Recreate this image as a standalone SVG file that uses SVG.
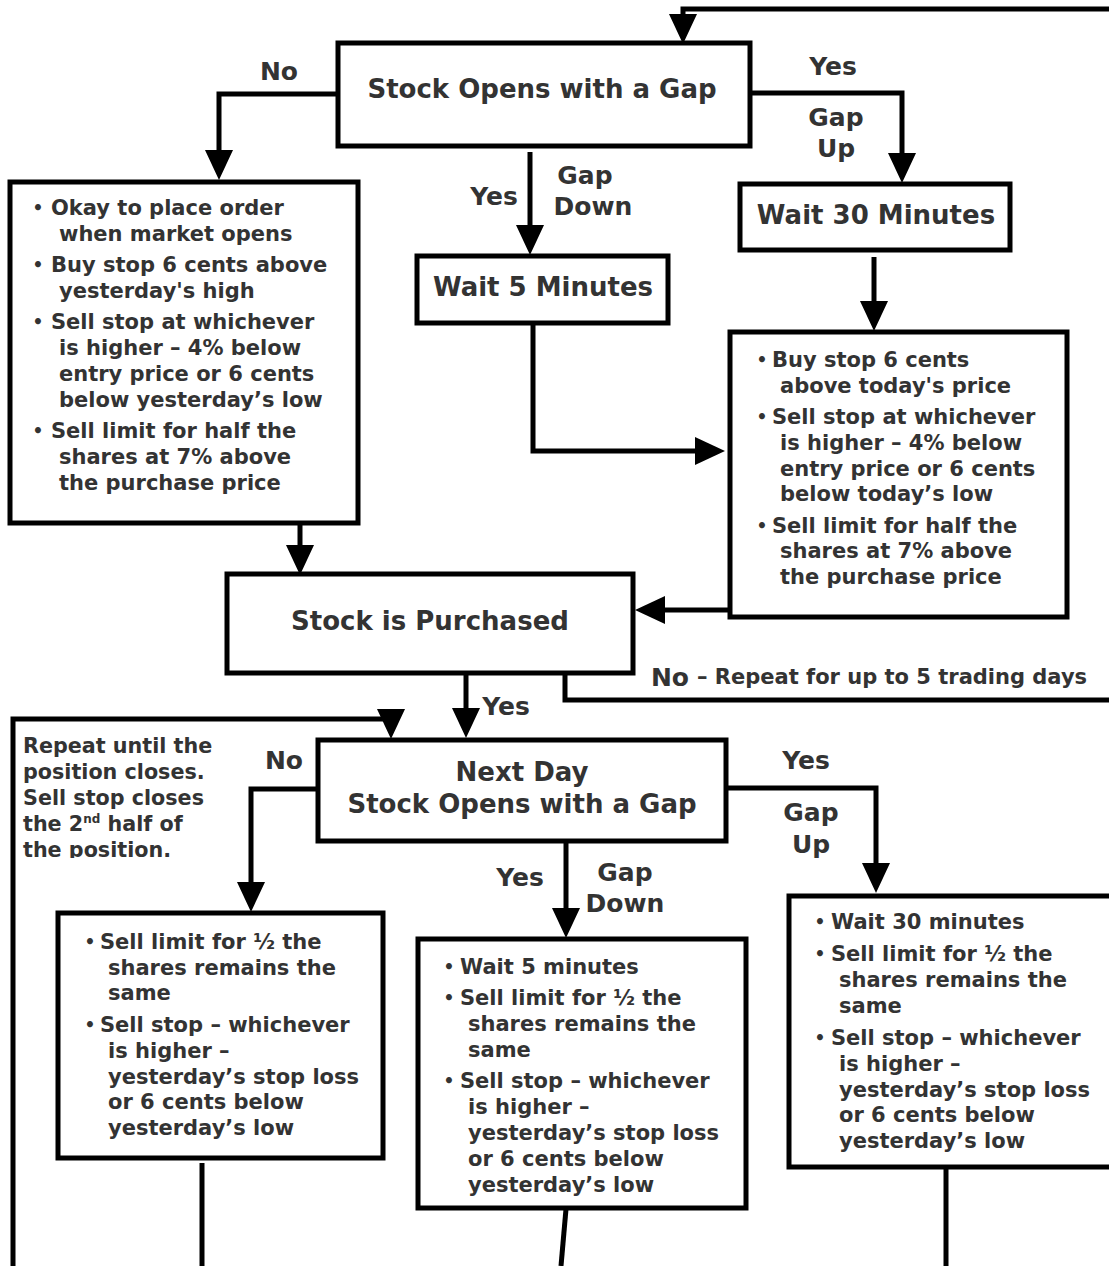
<svg xmlns="http://www.w3.org/2000/svg" width="1109" height="1266" viewBox="0 0 1109 1266">
<style>
text{font-family:"DejaVu Sans",Verdana,sans-serif;font-weight:bold;fill:#333}
.box{fill:#fff;stroke:#000;stroke-width:5}
.ln{fill:none;stroke:#000;stroke-width:5}
.ttl{font-size:26px;text-anchor:middle}
.lbl{font-size:25px;text-anchor:middle}
.b{font-size:21px}
.dot{font-size:17px;text-anchor:middle}
.note{font-size:20.7px}
</style>
<defs>
<marker id="ah" markerUnits="userSpaceOnUse" markerWidth="32" markerHeight="28" refX="18" refY="14" orient="auto">
<path d="M0,0 L30,14 L0,28 z" fill="#000"/>
</marker>
<clipPath id="cl"><rect x="0" y="0" width="300" height="858"/></clipPath>
</defs>
<g id="connectors">
<path class="ln" d="M1109,9 H683 V32" marker-end="url(#ah)"/>
<path class="ln" d="M338,94 H219 V168" marker-end="url(#ah)"/>
<path class="ln" d="M752,93 H902 V171" marker-end="url(#ah)"/>
<path class="ln" d="M530,152 V243" marker-end="url(#ah)"/>
<path class="ln" d="M533,323 V451 H713" marker-end="url(#ah)"/>
<path class="ln" d="M874,257 V319" marker-end="url(#ah)"/>
<path class="ln" d="M730,610 H647" marker-end="url(#ah)"/>
<path class="ln" d="M300,523 V563" marker-end="url(#ah)"/>
<path class="ln" d="M565,673 V700 H1109"/>
<path class="ln" d="M466,675 V726" marker-end="url(#ah)"/>
<path class="ln" d="M13,1266 V719 H391 V727" marker-end="url(#ah)"/>
<path class="ln" d="M318,789 H251 V900" marker-end="url(#ah)"/>
<path class="ln" d="M727,788 H876 V881" marker-end="url(#ah)"/>
<path class="ln" d="M566,842 V926" marker-end="url(#ah)"/>
<path class="ln" d="M202,1163 V1266"/>
<path class="ln" d="M566,1209 L561,1266"/>
<path class="ln" d="M946,1167 V1266"/>
</g>
<g id="labels">
<text class="lbl" x="279" y="80">No</text>
<text class="lbl" x="833" y="75">Yes</text>
<text class="lbl" x="836" y="126">Gap</text>
<text class="lbl" x="836" y="157">Up</text>
<text class="lbl" x="494" y="205">Yes</text>
<text class="lbl" x="585" y="184">Gap</text>
<text class="lbl" x="593" y="215">Down</text>
<text class="lbl" x="670" y="686">No</text>
<text x="697" y="684" style="font-size:21px">– Repeat for up to 5 trading days</text>
<text class="lbl" x="506" y="715">Yes</text>
<text class="lbl" x="284" y="769">No</text>
<text class="lbl" x="806" y="769">Yes</text>
<text class="lbl" x="811" y="821">Gap</text>
<text class="lbl" x="811" y="853">Up</text>
<text class="lbl" x="520" y="886">Yes</text>
<text class="lbl" x="625" y="881">Gap</text>
<text class="lbl" x="625" y="912">Down</text>
</g>
<g id="note" clip-path="url(#cl)">
<text class="note" x="23" y="753">Repeat until the</text>
<text class="note" x="23" y="779">position closes.</text>
<text class="note" x="23" y="805">Sell stop closes</text>
<text class="note" x="23" y="831">the 2<tspan dy="-8" style="font-size:12px">nd</tspan><tspan dy="8"> half of</tspan></text>
<text class="note" x="23" y="857">the position.</text>
</g>
<g id="n_gap">
<rect class="box" x="338" y="43" width="412" height="103"/>
<text class="ttl" x="542" y="98">Stock Opens with a Gap</text>
</g>
<g id="n_left">
<rect class="box" x="10" y="182" width="348" height="341"/>
<text class="dot" x="38" y="214">•</text><text class="b" x="51" y="215">Okay to place order</text>
<text class="b" x="59" y="241">when market opens</text>
<text class="dot" x="38" y="271">•</text><text class="b" x="51" y="272">Buy stop 6 cents above</text>
<text class="b" x="59" y="298">yesterday's high</text>
<text class="dot" x="38" y="328">•</text><text class="b" x="51" y="329">Sell stop at whichever</text>
<text class="b" x="59" y="355">is higher – 4% below</text>
<text class="b" x="59" y="381">entry price or 6 cents</text>
<text class="b" x="59" y="407">below yesterday’s low</text>
<text class="dot" x="38" y="437">•</text><text class="b" x="51" y="438">Sell limit for half the</text>
<text class="b" x="59" y="464">shares at 7% above</text>
<text class="b" x="59" y="490">the purchase price</text>
</g>
<g id="n_w30">
<rect class="box" x="740" y="184" width="270" height="66"/>
<text class="ttl" x="876" y="224">Wait 30 Minutes</text>
</g>
<g id="n_w5">
<rect class="box" x="417" y="256" width="251" height="67"/>
<text class="ttl" x="543" y="296">Wait 5 Minutes</text>
</g>
<g id="n_right">
<rect class="box" x="730" y="332" width="337" height="285"/>
<text class="dot" x="762" y="366">•</text><text class="b" x="772" y="367">Buy stop 6 cents</text>
<text class="b" x="780" y="393">above today's price</text>
<text class="dot" x="762" y="423">•</text><text class="b" x="772" y="424">Sell stop at whichever</text>
<text class="b" x="780" y="450">is higher – 4% below</text>
<text class="b" x="780" y="476">entry price or 6 cents</text>
<text class="b" x="780" y="501">below today’s low</text>
<text class="dot" x="762" y="532">•</text><text class="b" x="772" y="533">Sell limit for half the</text>
<text class="b" x="780" y="558">shares at 7% above</text>
<text class="b" x="780" y="584">the purchase price</text>
</g>
<g id="n_purchased">
<rect class="box" x="227" y="574" width="406" height="99"/>
<text class="ttl" x="430" y="630">Stock is Purchased</text>
</g>
<g id="n_next">
<rect class="box" x="318" y="740" width="408" height="101"/>
<text class="ttl" x="522" y="781">Next Day</text>
<text class="ttl" x="522" y="813">Stock Opens with a Gap</text>
</g>
<g id="n_bl">
<rect class="box" x="58" y="913" width="325" height="245"/>
<text class="dot" x="90" y="948">•</text><text class="b" x="100" y="949">Sell limit for ½ the</text>
<text class="b" x="108" y="975">shares remains the</text>
<text class="b" x="108" y="1000">same</text>
<text class="dot" x="90" y="1031">•</text><text class="b" x="100" y="1032">Sell stop – whichever</text>
<text class="b" x="108" y="1058">is higher –</text>
<text class="b" x="108" y="1084">yesterday’s stop loss</text>
<text class="b" x="108" y="1109">or 6 cents below</text>
<text class="b" x="108" y="1135">yesterday’s low</text>
</g>
<g id="n_bm">
<rect class="box" x="418" y="939" width="328" height="269"/>
<text class="dot" x="449" y="973">•</text><text class="b" x="460" y="974">Wait 5 minutes</text>
<text class="dot" x="449" y="1004">•</text><text class="b" x="460" y="1005">Sell limit for ½ the</text>
<text class="b" x="468" y="1031">shares remains the</text>
<text class="b" x="468" y="1057">same</text>
<text class="dot" x="449" y="1087">•</text><text class="b" x="460" y="1088">Sell stop – whichever</text>
<text class="b" x="468" y="1114">is higher –</text>
<text class="b" x="468" y="1140">yesterday’s stop loss</text>
<text class="b" x="468" y="1166">or 6 cents below</text>
<text class="b" x="468" y="1192">yesterday’s low</text>
</g>
<g id="n_br">
<rect class="box" x="789" y="896" width="340" height="271"/>
<text class="dot" x="820" y="928">•</text><text class="b" x="831" y="929">Wait 30 minutes</text>
<text class="dot" x="820" y="960">•</text><text class="b" x="831" y="961">Sell limit for ½ the</text>
<text class="b" x="839" y="987">shares remains the</text>
<text class="b" x="839" y="1013">same</text>
<text class="dot" x="820" y="1044">•</text><text class="b" x="831" y="1045">Sell stop – whichever</text>
<text class="b" x="839" y="1071">is higher –</text>
<text class="b" x="839" y="1097">yesterday’s stop loss</text>
<text class="b" x="839" y="1122">or 6 cents below</text>
<text class="b" x="839" y="1148">yesterday’s low</text>
</g>
</svg>
